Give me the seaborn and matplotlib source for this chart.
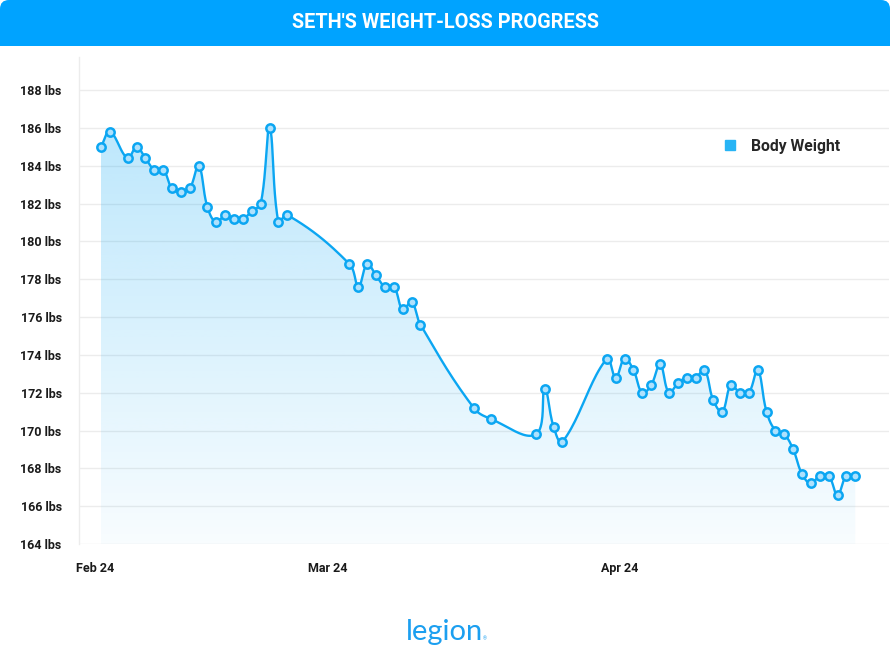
import numpy as np
import pandas as pd
import matplotlib
matplotlib.use("Agg")
import matplotlib.pyplot as plt
import seaborn as sns
from matplotlib.patches import FancyBboxPatch, Rectangle, Polygon
from matplotlib.lines import Line2D

# Data (day 0 = first weigh-in)
days = [0, 1, 3, 4, 5, 6, 7, 8, 9, 10, 11, 12, 13, 14, 15, 16, 17, 18, 19, 20, 21,
        28, 29, 30, 31, 32, 33, 34, 35, 36,
        42, 44,
        49, 50, 51, 52,
        57, 58, 59, 60, 61, 62, 63, 64, 65, 66, 67, 68, 69, 70, 71, 72, 73, 74, 75,
        76, 77, 78, 79, 80, 81, 82, 83, 84, 85]
weights = [185.0, 185.8, 184.4, 185.0, 184.4, 183.8, 183.8, 182.8, 182.6, 182.8, 184.0,
           181.8, 181.0, 181.4, 181.2, 181.2, 181.6, 182.0, 186.0, 181.0, 181.4,
           178.8, 177.6, 178.8, 178.2, 177.6, 177.6, 176.4, 176.8, 175.6,
           171.2, 170.6,
           169.8, 172.2, 170.2, 169.4,
           173.8, 172.8, 173.8, 173.2, 172.0, 172.4, 173.5, 172.0, 172.5, 172.8,
           172.8, 173.2, 171.6, 171.0, 172.4, 172.0, 172.0, 173.2, 171.0,
           170.0, 169.8, 169.0, 167.7, 167.2, 167.6, 167.6, 166.6, 167.6, 167.6]

y_ticks = list(range(164, 189, 2))
y_labels = [f"{v} lbs" for v in y_ticks]
x_tick_days = [-0.7, 25.5, 58.4]
x_tick_labels = ["Feb 24", "Mar 24", "Apr 24"]

title = "SETH'S WEIGHT-LOSS PROGRESS"
series_name = "Body Weight"

BAR = "#00a3ff"
BLUE = "#0ba6f2"
GRID = "#ececec"


def smooth(xs, ys, sx, sy, tension=0.4, n=24):
    # spline like chart.js draws it, distances measured in pixels
    px = np.asarray(xs, float) * sx
    py = np.asarray(ys, float) * sy
    m = len(px)
    c_prev = np.zeros((m, 2))
    c_next = np.zeros((m, 2))
    for i in range(m):
        a = max(i - 1, 0)
        b = min(i + 1, m - 1)
        d01 = np.hypot(px[i] - px[a], py[i] - py[a])
        d12 = np.hypot(px[b] - px[i], py[b] - py[i])
        tot = d01 + d12
        fa = tension * (d01 / tot if tot else 0)
        fb = tension * (d12 / tot if tot else 0)
        dx = px[b] - px[a]
        dy = py[b] - py[a]
        c_prev[i] = (px[i] - fa * dx, py[i] - fa * dy)
        c_next[i] = (px[i] + fb * dx, py[i] + fb * dy)
    t = np.linspace(0, 1, n)[:, None]
    segs = []
    for i in range(m - 1):
        p0 = np.array([px[i], py[i]])
        p3 = np.array([px[i + 1], py[i + 1]])
        p1, p2 = c_next[i], c_prev[i + 1]
        bz = (1 - t) ** 3 * p0 + 3 * (1 - t) ** 2 * t * p1 + 3 * (1 - t) * t ** 2 * p2 + t ** 3 * p3
        segs.append(bz if i == 0 else bz[1:])
    pts = np.vstack(segs)
    return pts[:, 0] / sx, pts[:, 1] / sy


sns.set_theme(style="white")
plt.rcParams["font.family"] = ["Roboto", "DejaVu Sans"]

fig = plt.figure(figsize=(8.9, 6.7), dpi=100)

# background layer in pixel coordinates (title bar + logo)
bg = fig.add_axes([0, 0, 1, 1], zorder=-1)
bg.set_xlim(0, 890)
bg.set_ylim(670, 0)
bg.axis("off")
bg.add_patch(FancyBboxPatch((0, 0), 890, 46, boxstyle="round,pad=0,rounding_size=9",
                            fc=BAR, ec="none"))
bg.add_patch(Rectangle((0, 20), 890, 26, fc=BAR, ec="none"))
bg.text(446, 23, title, color="white", fontsize=14.3, fontweight="bold",
        ha="center", va="center")
bg.text(444, 632, "legion", color="#1b9ff0", fontsize=21, family="Lato",
        ha="center", va="center")
bg.text(485, 639, "®", color="#1b9ff0", fontsize=3.5, ha="center", va="center")

ax = fig.add_axes([79 / 890, (670 - 544) / 670, 810 / 890, (544 - 57) / 670])
ax.patch.set_alpha(0)
ymin, ymax = 164, 189.75
ax.set_xlim(-2.48, 88.8)
ax.set_ylim(ymin, ymax)

sx, sy = 8.87, 18.92
cx, cy = smooth(days, weights, sx, sy)
curve = pd.DataFrame({"day": cx, "weight": cy})
pts = pd.DataFrame({"day": days, "weight": weights})

# gradient fill under the curve
verts = np.column_stack([np.r_[cx, cx[-1], cx[0]], np.r_[cy, ymin, ymin]])
clip = Polygon(verts, closed=True, fc="none", ec="none")
ax.add_patch(clip)
grad = np.zeros((256, 1, 4))
grad[:, 0, :3] = np.array([11, 168, 245]) / 255
grad[:, 0, 3] = np.linspace(0.31, 0.03, 256)
img = ax.imshow(grad, extent=[cx[0], cx[-1], ymin, ymax], origin="upper",
                aspect="auto", zorder=1, interpolation="bilinear")
img.set_clip_path(clip)

sns.lineplot(data=curve, x="day", y="weight", sort=False, color=BLUE, lw=1.7,
             ax=ax, zorder=3)
sns.scatterplot(data=pts, x="day", y="weight", s=36, color="#aee1fd",
                edgecolor=BLUE, linewidth=1.8, ax=ax, zorder=4)

ax.set_yticks(y_ticks)
ax.set_yticklabels(y_labels)
ax.set_xticks(x_tick_days)
ax.set_xticklabels(x_tick_labels)
ax.set_xlabel("")
ax.set_ylabel("")
ax.yaxis.grid(True, color=GRID, lw=1)
ax.set_axisbelow(True)
ax.tick_params(axis="y", length=6, width=1, color=GRID, pad=6.5, labelsize=9,
               labelcolor="#1a1a1a")
ax.tick_params(axis="x", length=0, pad=13, labelsize=9, labelcolor="#1a1a1a")
for lab in ax.get_yticklabels() + ax.get_xticklabels():
    lab.set_fontweight("bold")
for s in ["top", "right", "bottom"]:
    ax.spines[s].set_visible(False)
ax.spines["left"].set_color(GRID)
ax.spines["left"].set_linewidth(1)

handle = Line2D([], [], marker="s", ls="", color="#27b4f5", markersize=7)
ax.legend([handle], [series_name], loc="center left", frameon=False,
          bbox_to_anchor=(700 / 890, 1 - 146 / 670), bbox_transform=fig.transFigure,
          handletextpad=0.35, prop={"weight": "bold", "size": 11.3})

fig.savefig("out.png", dpi=100)
